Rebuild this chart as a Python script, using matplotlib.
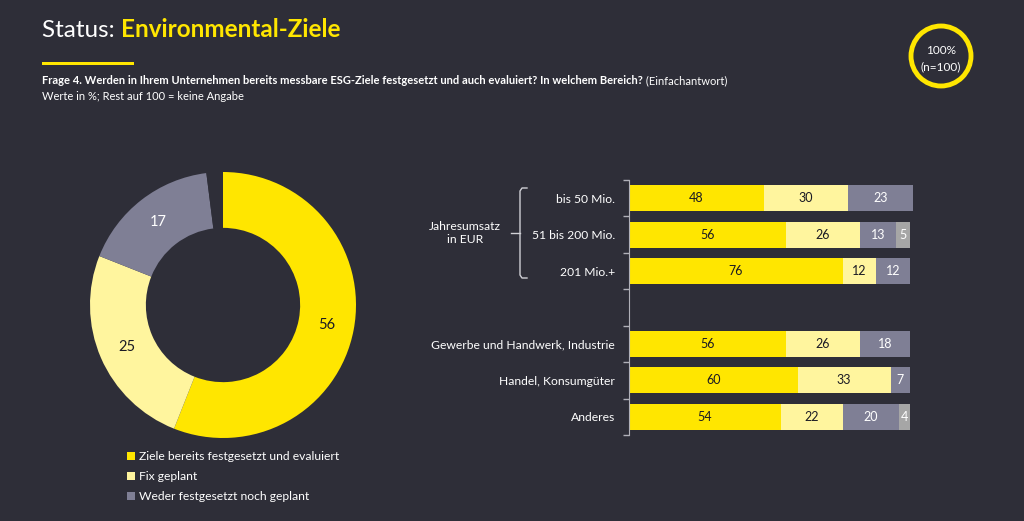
import matplotlib.pyplot as plt
import numpy as np
from matplotlib.patches import Circle, Rectangle

plt.rcParams['font.family'] = ['Lato', 'DejaVu Sans']

# Daten
donut_labels = ['Ziele bereits festgesetzt und evaluiert', 'Fix geplant', 'Weder festgesetzt noch geplant']
donut_values = [56, 25, 17]
donut_rest = 2

bar_categories = ['bis 50 Mio.', '51 bis 200 Mio.', '201 Mio.+', '',
                  'Gewerbe und Handwerk, Industrie', 'Handel, Konsumgüter', 'Anderes']
bar_festgesetzt = [48, 56, 76, 0, 56, 60, 54]
bar_geplant = [30, 26, 12, 0, 26, 33, 22]
bar_weder = [23, 13, 12, 0, 18, 7, 20]
bar_rest = [0, 5, 0, 0, 0, 0, 4]

BG = '#2e2e38'
YELLOW = '#ffe600'
LIGHT = '#fff59e'
GREY = '#7f7f95'
REST = '#a6a6a6'
DARK = '#1a1a24'
W, H = 1024, 521

fig = plt.figure(figsize=(W / 100, H / 100), dpi=100, facecolor=BG)


def px(x, y, w, h):
    # Pixelkoordinaten (von oben) -> figure fraction
    return [x / W, 1 - (y + h) / H, w / W, h / H]


# Hintergrund-Achse für Texte
bg = fig.add_axes([0, 0, 1, 1])
bg.set_xlim(0, W)
bg.set_ylim(H, 0)
bg.axis('off')
bg.set_zorder(-1)

t1 = bg.text(42, 37, 'Status: ', color='white', fontsize=17.5, va='baseline')
bg.annotate('Environmental-Ziele', xy=(1, 0), xycoords=t1, color=YELLOW,
            fontsize=17.5, fontweight='bold', va='bottom')
bg.add_patch(Rectangle((42, 61.5), 92, 3, color=YELLOW, lw=0))

q = bg.text(42, 84, 'Frage 4. Werden in Ihrem Unternehmen bereits messbare ESG-Ziele festgesetzt und auch evaluiert? In welchem Bereich?',
            color='white', fontsize=8, fontweight='bold', va='baseline')
bg.annotate(' (Einfachantwort)', xy=(1, 0), xycoords=q, color='white', fontsize=8, va='bottom')
bg.text(42, 100, 'Werte in %; Rest auf 100 = keine Angabe', color='white', fontsize=8, va='baseline')

# Kreis oben rechts
bg.add_patch(Circle((941, 56), 30, fill=False, ec=YELLOW, lw=3.5))
bg.text(941, 50, '100%', color='white', fontsize=8.5, ha='center', va='center')
bg.text(941, 67, '(n=100)', color='white', fontsize=8.5, ha='center', va='center')

# Donut
ax1 = fig.add_axes(px(90, 172, 266, 266))
ax1.set_facecolor(BG)
vals = donut_values + [donut_rest]
wedges, _ = ax1.pie(vals, colors=[YELLOW, LIGHT, GREY, BG], startangle=90, counterclock=False,
                    radius=1, wedgeprops=dict(width=0.42, linewidth=0))
ax1.set_xlim(-1, 1)
ax1.set_ylim(-1, 1)
ax1.set_aspect('equal')
ax1.axis('off')
start = 90
txt_cols = [DARK, DARK, 'white']
for v, c in zip(donut_values, txt_cols):
    mid = np.deg2rad(start - v / sum(vals) * 360 / 2)
    ax1.text(0.79 * np.cos(mid), 0.79 * np.sin(mid), str(v), color=c, fontsize=10.5,
             ha='center', va='center')
    start -= v / sum(vals) * 360

# Legende
for i, (lab, col) in enumerate(zip(donut_labels, [YELLOW, LIGHT, GREY])):
    y = 456 + i * 20
    bg.add_patch(Rectangle((127, y - 4), 8, 8, color=col, lw=0))
    bg.text(139, y, lab, color='white', fontsize=8.7, va='center')

# Balken
ax2 = fig.add_axes(px(629, 180, 284, 255))
ax2.set_facecolor(BG)
ypos = np.arange(len(bar_categories))
left = np.zeros(len(ypos))
series = [(bar_festgesetzt, YELLOW, DARK), (bar_geplant, LIGHT, DARK),
          (bar_weder, GREY, 'white'), (bar_rest, REST, 'white')]
for data, col, tc in series:
    data = np.array(data, dtype=float)
    ax2.barh(ypos, data, left=left, height=0.72, color=col, lw=0)
    for y, l, d in zip(ypos, left, data):
        if d > 0:
            ax2.text(l + d / 2, y, str(int(d)), color=tc, fontsize=9, ha='center', va='center')
    left += data
ax2.set_xlim(0, 101)
ax2.set_ylim(6.5, -0.5)
ax2.set_xticks([])
ax2.set_yticks(ypos)
ax2.set_yticklabels(bar_categories, color='white', fontsize=8.7)
ax2.tick_params(axis='y', which='major', length=0, pad=10)
ax2.set_yticks(np.arange(-0.5, 7, 1), minor=True)
ax2.tick_params(axis='y', which='minor', length=4, color='#b0b0b8', width=1)
for s in ['top', 'right', 'bottom']:
    ax2.spines[s].set_visible(False)
ax2.spines['left'].set_color('#b0b0b8')

# Klammer Jahresumsatz
bcol = '#d0d0d6'
bg.plot([527, 522, 520, 520, 522, 527], [188, 188, 191, 275, 278, 278], color=bcol, lw=1)
bg.plot([511, 520], [233, 233], color=bcol, lw=1)
bg.text(465, 233, 'Jahresumsatz\nin EUR', color='white', fontsize=8.7, ha='center', va='center',
        linespacing=1.3)

fig.savefig('out.png', dpi=100, facecolor=BG)
